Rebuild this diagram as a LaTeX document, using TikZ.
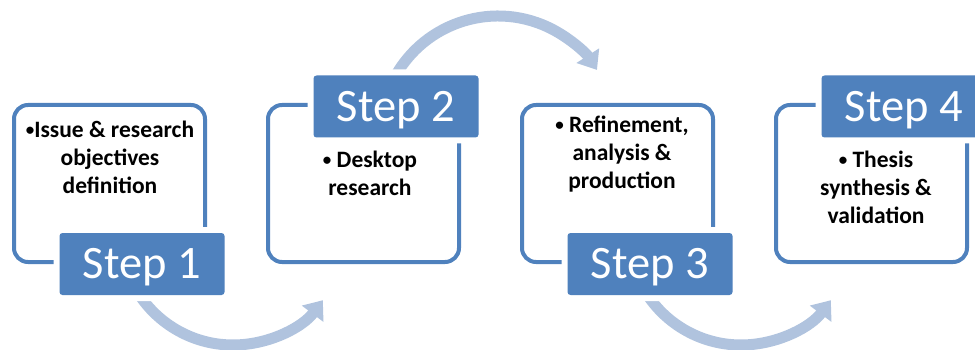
\documentclass[tikz,border=0pt]{standalone}
\usepackage{fontspec}
\setmainfont{Carlito}
\usetikzlibrary{arrows.meta}
\definecolor{stepblue}{RGB}{79,129,189}
\definecolor{flowblue}{RGB}{176,195,222}
% small list bullet
\newcommand{\smallbul}{\raisebox{2pt}{\fontsize{17}{17}\selectfont •}}

\begin{document}
\begin{tikzpicture}[x=1pt,y=-1pt,
  frame/.style={draw=stepblue, line width=4pt, rounded corners=14pt,
    minimum width=191pt, minimum height=157pt, inner sep=0pt},
  steplabel/.style={fill=stepblue, rounded corners=3pt, text=white,
    font=\fontsize{46.5}{50}\selectfont, minimum width=165pt, minimum height=62pt,
    text height=29.8pt, text depth=0pt, inner sep=0pt,
    preaction={draw=white, line width=12pt}},
  body/.style={font=\bfseries\fontsize{23.5}{28}\selectfont, align=center,
    anchor=north, inner sep=0pt},
  flow/.style={draw=flowblue, line width=11pt,
    -{Triangle[length=17pt,width=26pt]}}
]
\useasboundingbox (0,0) rectangle (975,350);

% curved arrows between the steps
\coordinate (c12) at (233,232.5);
\coordinate (c23) at (498,133.75);
\coordinate (c34) at (741,232.5);
\draw[flow] ([shift={(147:112.5)}]c12) arc[start angle=147, end angle=37, radius=112.5];
\draw[flow] ([shift={(208:117.75)}]c23) arc[start angle=208, end angle=327.2, radius=117.75];
\draw[flow] ([shift={(147:112.5)}]c34) arc[start angle=147, end angle=37, radius=112.5];

% outlined step frames
\node[frame] (f1) at (109.5,183.5) {};
\node[frame] (f2) at (363.5,183.5) {};
\node[frame] (f3) at (617.5,183.5) {};
\node[frame] (f4) at (871.5,183.5) {};

% step labels
\node[steplabel] (s1) at (142,264) {Step 1};
\node[steplabel] (s2) at (396,106.5) {Step 2};
\node[steplabel] (s3) at (650,264) {Step 3};
\node[steplabel] (s4) at (904,106.5) {Step 4};

% step contents
\node[body] (t1) at (110,121) {\smallbul Issue \& research\\objectives\\definition};
\node[body] (t2) at (370,151) {\smallbul{} Desktop\\research};
\node[body] (t3) at (622,116) {\smallbul{} Refinement,\\analysis \&\\production};
\node[body] (t4) at (876,151) {\smallbul{} Thesis\\synthesis \&\\validation};
\end{tikzpicture}
\end{document}
